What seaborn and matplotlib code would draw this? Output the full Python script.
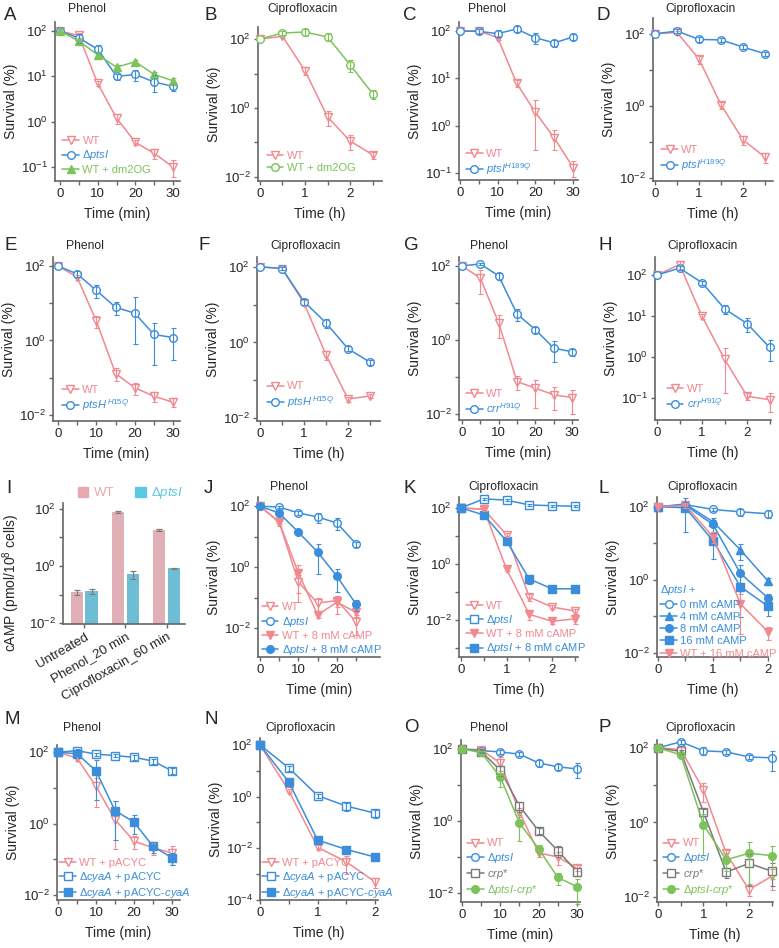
import numpy as np
import pandas as pd
import matplotlib
matplotlib.use("Agg")
import matplotlib.pyplot as plt
import seaborn as sns
from matplotlib.lines import Line2D
from matplotlib.patches import Patch
from matplotlib.ticker import NullLocator

# ---------------------------------------------------------------- data
T_MIN = [0, 5, 10, 15, 20, 25, 30]
T_MIN25 = [0, 5, 10, 15, 20, 25]
T_H = [0, 0.5, 1, 1.5, 2, 2.5]
T_H2 = [0, 0.5, 1, 1.5, 2]

# A  Phenol
A_WT = [100, 80, 7, 1.2, 0.35, 0.2, 0.1]
A_WT_SD = [0, 10, 1, 0.3, 0.05, 0.05, 0.04]
A_PTS = [100, 70, 40, 10, 11, 7.5, 6]
A_PTS_SD = [0, 15, 8, 1.5, 3, 3, 1.3]
A_DM = [100, 60, 30, 16, 21, 11, 8]
A_DM_SD = [0, 8, 5, 2, 2, 1.5, 1]
# B  Ciprofloxacin
B_WT = [100, 120, 12, 0.55, 0.11, 0.044]
B_WT_SD = [0, 15, 3, 0.25, 0.05, 0.01]
B_DM = [100, 150, 160, 115, 18, 2.6]
B_DM_SD = [0, 20, 40, 30, 7, 0.8]
# C  Phenol
C_WT = [100, 100, 72, 7.9, 1.9, 0.55, 0.13]
C_WT_SD = [0, 10, 8, 1.5, 1.6, 0.25, 0.05]
C_MUT = [100, 98, 88, 110, 72, 56, 75]
C_MUT_SD = [0, 12, 15, 15, 18, 10, 12]
# D  Ciprofloxacin
D_WT = [100, 110, 20, 1.07, 0.115, 0.038]
D_WT_SD = [0, 10, 5, 0.25, 0.03, 0.012]
D_MUT = [100, 120, 70, 68, 43, 28]
D_MUT_SD = [0, 15, 10, 8, 5, 3]
# E  Phenol
E_WT = [100, 50, 3.3, 0.13, 0.054, 0.032, 0.022]
E_WT_SD = [0, 8, 1.2, 0.05, 0.02, 0.01, 0.006]
E_MUT = [100, 61, 22, 7.8, 5.4, 1.45, 1.2]
E_MUT_SD = [0, 10, 8, 3, 9.6, 1.5, 0.9]
# F  Ciprofloxacin
F_WT = [100, 90, 11, 0.47, 0.032, 0.038]
F_WT_SD = [0, 10, 2, 0.12, 0.005, 0.005]
F_MUT = [100, 90, 12, 3.3, 0.68, 0.3]
F_MUT_SD = [0, 10, 2, 0.9, 0.1, 0.05]
# G  Phenol
G_WT = [100, 47, 2.9, 0.075, 0.05, 0.033, 0.028]
G_WT_SD = [0, 30, 1.8, 0.03, 0.035, 0.02, 0.018]
G_MUT = [100, 113, 54, 5, 1.9, 0.6, 0.48]
G_MUT_SD = [0, 10, 12, 1.8, 0.4, 0.35, 0.1]
# H  Ciprofloxacin
H_WT = [100, 180, 9.8, 0.88, 0.11, 0.09]
H_WT_SD = [0, 40, 1.5, 0.75, 0.02, 0.045]
H_MUT = [100, 147, 65, 15, 6.5, 1.7]
H_MUT_SD = [0, 15, 8, 4, 2.5, 0.9]
# I  cAMP
I_CATS = ["Untreated", "Phenol_20 min", "Ciprofloxacin_60 min"]
I_STRAINS = ["WT", "ΔptsI"]
I_WT = [0.12, 79, 17.7]
I_WT_SD = [0.02, 6, 1.2]
I_PTS = [0.13, 0.51, 0.82]
I_PTS_SD = [0.025, 0.15, 0.03]
# J  Phenol
J_WT = [100, 30, 0.32, 0.066, 0.08, 0.016]
J_WT_SD = [0, 8, 0.25, 0.03, 0.03, 0.01]
J_PTS = [100, 93, 60, 44, 28, 5.7]
J_PTS_SD = [0, 8, 10, 15, 12, 1.2]
J_WTC = [100, 30, 0.64, 0.027, 0.07, 0.033]
J_WTC_SD = [0, 5, 0.5, 0.005, 0.04, 0.01]
J_PTSC = [100, 59, 14, 3.1, 0.5, 0.06]
J_PTSC_SD = [0, 8, 2, 2.5, 0.35, 0.025]
# K  Ciprofloxacin
K_WT = [100, 90, 11, 0.066, 0.029, 0.021]
K_WT_SD = [0, 10, 2, 0.02, 0.005, 0.004]
K_PTS = [100, 210, 190, 128, 120, 115]
K_PTS_SD = [0, 20, 15, 10, 8, 8]
K_WTC = [100, 90, 0.66, 0.016, 0.009, 0.011]
K_WTC_SD = [0, 10, 0.1, 0.006, 0.002, 0.004]
K_PTSC = [100, 56, 6.6, 0.29, 0.13, 0.13]
K_PTSC_SD = [0, 8, 1.5, 0.1, 0.02, 0.02]
# L  Ciprofloxacin, cAMP doses
L_0 = [100, 115, 85, 73, 65]
L_0_SD = [0, 25, 10, 15, 15]
L_4 = [100, 120, 39, 6.6, 0.93]
L_4_SD = [0, 20, 10, 3, 0.2]
L_8 = [100, 110, 33, 1.5, 0.32]
L_8_SD = [0, 15, 12, 1, 0.1]
L_16 = [100, 95, 11.7, 0.65, 0.19]
L_16_SD = [0, 75, 8, 0.9, 0.09]
L_WT16 = [100, 110, 15, 0.22, 0.038]
L_WT16_SD = [0, 15, 5, 0.2, 0.015]
# M  Phenol
M_WT = [100, 68, 11, 1.3, 0.32, 0.21, 0.15]
M_WT_SD = [0, 10, 8, 3, 0.12, 0.08, 0.08]
M_CYA = [100, 110, 88, 80, 72, 56, 30]
M_CYA_SD = [0, 10, 8, 8, 10, 8, 6]
M_CYC = [100, 90, 30, 2.3, 1.1, 0.23, 0.11]
M_CYC_SD = [0, 10, 30, 2, 0.6, 0.08, 0.04]
# N  Ciprofloxacin
N_WT = [100, 1.7, 0.011, 0.003, 0.0005]
N_WT_SD = [0, 0.3, 0.002, 0.002, 0.0002]
N_CYA = [100, 13, 1.1, 0.43, 0.23]
N_CYA_SD = [0, 3, 0.2, 0.15, 0.08]
N_CYC = [100, 3.7, 0.021, 0.009, 0.0046]
N_CYC_SD = [0, 1, 0.004, 0.002, 0.0006]
# O  Phenol
O_WT = [100, 95, 41, 1.8, 0.13, 0.1, 0.05]
O_WT_SD = [0, 10, 20, 0.5, 0.03, 0.04, 0.01]
O_PTS = [100, 90, 83, 72, 41, 32, 28]
O_PTS_SD = [0, 8, 10, 10, 10, 6, 12]
O_CRP = [100, 85, 26, 2.6, 0.53, 0.15, 0.039]
O_CRP_SD = [0, 8, 8, 0.8, 0.1, 0.05, 0.01]
O_DC = [100, 80, 16.7, 0.88, 0.17, 0.027, 0.015]
O_DC_SD = [0, 10, 8, 0.6, 0.05, 0.01, 0.01]
# P  Ciprofloxacin
P_WT = [100, 90, 7.5, 0.15, 0.016, 0.036]
P_WT_SD = [0, 15, 4, 0.03, 0.005, 0.02]
P_PTS = [100, 145, 83, 78, 57, 54]
P_PTS_SD = [0, 15, 20, 8, 8, 30]
P_CRP = [100, 80, 1.9, 0.047, 0.08, 0.05]
P_CRP_SD = [0, 10, 0.4, 0.015, 0.06, 0.03]
P_DC = [100, 65, 0.88, 0.1, 0.15, 0.13]
P_DC_SD = [0, 10, 0.8, 0.05, 0.15, 0.1]

# ---------------------------------------------------------------- style
sns.set_theme(style="ticks")
plt.rcParams["font.family"] = ["Liberation Sans", "DejaVu Sans"]
plt.rcParams["mathtext.fontset"] = "custom"
plt.rcParams["mathtext.rm"] = "Liberation Sans"
plt.rcParams["mathtext.it"] = "Liberation Sans:italic"
plt.rcParams["mathtext.bf"] = "Liberation Sans:bold"
plt.rcParams["mathtext.default"] = "regular"

PINK = "#f3888f"
BLUE = "#3a8edb"
GREEN = "#7cc35a"
GREY = "#7a7a7a"
BAR_PINK = "#e9a8b0"
BAR_CYAN = "#5cc8e5"
AXC = "#666666"
MS = 5.5

W, H = 779, 948
fig = plt.figure(figsize=(W / 100, H / 100), dpi=100)


def add_ax(l, t, r, b):
    return fig.add_axes([l / W, 1 - b / H, (r - l) / W, (b - t) / H])


def ftext(x, y, s, size, **kw):
    fig.text(x / W, 1 - y / H, s, fontsize=size, va="center", ha="left", **kw)


def style_axis(ax, ylog, xlim, xmaj, xmin_, labeled, xlabel, ylabel="Survival (%)"):
    ax.set_yscale("log")
    ax.set_ylim(10 ** ylog[0], 10 ** ylog[1])
    ks = list(range(int(np.ceil(ylog[0] - 1e-9)), int(np.floor(ylog[1] + 1e-9)) + 1))
    ax.set_yticks([10.0 ** k for k in ks])
    ax.set_yticklabels([rf"$10^{{{k}}}$" if k in labeled else "" for k in ks])
    ax.yaxis.set_minor_locator(NullLocator())
    if xlim is not None:
        ax.set_xlim(*xlim)
    if xmaj is not None:
        ax.set_xticks(xmaj)
        ax.set_xticklabels([f"{v:g}" for v in xmaj])
        ax.set_xticks(xmin_, minor=True)
    ax.set_xlabel(xlabel, fontsize=10, labelpad=5)
    ax.set_ylabel(ylabel, fontsize=10, labelpad=2)
    for s in ["top", "right"]:
        ax.spines[s].set_visible(False)
    for s in ["left", "bottom"]:
        ax.spines[s].set_color(AXC)
        ax.spines[s].set_linewidth(1.2)
    ax.tick_params(which="both", direction="out", length=3, width=1, color=AXC,
                   labelsize=9.5, pad=2)


def plot_series(ax, t, vals, sd, color, marker, filled):
    df = pd.DataFrame({"t": t, "v": vals})
    sns.lineplot(data=df, x="t", y="v", ax=ax, color=color, marker=marker,
                 markersize=MS, markeredgecolor=color,
                 markerfacecolor=color if filled else "white",
                 markeredgewidth=1.0, linewidth=1.1, clip_on=False, zorder=3,
                 legend=False, errorbar=None)
    v = np.asarray(vals, float)
    s = np.asarray(sd, float)
    m = s > 0
    tt = np.asarray(t, float)[m]
    lower = np.minimum(s[m], 0.85 * v[m])
    ax.errorbar(tt, v[m], yerr=[lower, s[m]], fmt="none", ecolor=color,
                elinewidth=0.8, capsize=1.8, capthick=0.8, zorder=4, clip_on=False)


def add_legend(ax, series, anchor, title=None, title_color=None):
    handles, labels, colors = [], [], []
    for (_, _, lab, c, mk, filled) in series:
        handles.append(Line2D([], [], color=c, marker=mk, markersize=MS,
                              markeredgecolor=c,
                              markerfacecolor=c if filled else "white",
                              markeredgewidth=1.0, lw=1.1))
        labels.append(lab)
        colors.append(c)
    leg = ax.legend(handles, labels, loc="lower left", bbox_to_anchor=anchor,
                    frameon=False, fontsize=8, handlelength=1.5, handletextpad=0.3,
                    labelspacing=0.2, borderpad=0, borderaxespad=0, title=title,
                    title_fontsize=8, alignment="left")
    for tx, c in zip(leg.get_texts(), colors):
        tx.set_color(c)
    if title is not None:
        leg.get_title().set_color(title_color)


def survival_panel(rect, t, series, ylog, xlim, hours, labeled, anchor,
                   letter, letter_xy, title, title_xy, leg_title=None, xmaj=None):
    ax = add_ax(*rect)
    ax.set_yscale("log")
    for (vals, sd, lab, c, mk, filled) in series:
        plot_series(ax, t, vals, sd, c, mk, filled)
    if hours:
        maj = xmaj if xmaj is not None else [0, 1, 2]
        style_axis(ax, ylog, xlim, maj, [0.5, 1.5, 2.5] if xlim[1] > 2.4 else [0.5, 1.5],
                   labeled, "Time (h)")
    else:
        maj = xmaj if xmaj is not None else [0, 10, 20, 30]
        style_axis(ax, ylog, xlim, maj, [5, 15, 25], labeled, "Time (min)")
    add_legend(ax, series, anchor, title=leg_title, title_color=BLUE)
    ftext(letter_xy[0], letter_xy[1], letter, 13.5)
    ftext(title_xy[0], title_xy[1], title, 8.7)
    return ax


DPTS = r"$\mathit{ΔptsI}$"
EVEN = (2, 0, -2, -4)
ALL = (2, 1, 0, -1)

# ---------------------------------------------------------------- row 1
survival_panel((55, 22, 180, 181), T_MIN,
               [(A_WT, A_WT_SD, "WT", PINK, "v", False),
                (A_PTS, A_PTS_SD, DPTS, BLUE, "o", False),
                (A_DM, A_DM_SD, "WT + dm2OG", GREEN, "^", True)],
               (-1.31, 2.20), (-1.33, 31.86), False, ALL, (0.06, 0.04),
               "A", (4, 15), "Phenol", (68, 9))
survival_panel((258, 27, 382, 181), T_H,
               [(B_WT, B_WT_SD, "WT", PINK, "v", False),
                (B_DM, B_DM_SD, "WT + dm2OG", GREEN, "o", False)],
               (-2.12, 2.35), (-0.044, 2.71), True, EVEN, (0.07, 0.05),
               "B", (204, 15), "Ciprofloxacin", (267, 9))
survival_panel((459, 22, 578, 180), T_MIN,
               [(C_WT, C_WT_SD, "WT", PINK, "v", False),
                (C_MUT, C_MUT_SD, r"$\mathit{ptsI}^{\mathit{H189Q}}$", BLUE, "o", False)],
               (-1.15, 2.19), (-0.27, 31.3), False, ALL, (0.06, 0.02),
               "C", (403, 15), "Phenol", (468, 9))
survival_panel((653, 18, 773, 181), T_H,
               [(D_WT, D_WT_SD, "WT", PINK, "v", False),
                (D_MUT, D_MUT_SD, r"$\mathit{ptsI}^{\mathit{H189Q}}$", BLUE, "o", False)],
               (-2.08, 2.44), (-0.045, 2.68), True, EVEN, (0.07, 0.05),
               "D", (596, 15), "Ciprofloxacin", (665, 9))

# ---------------------------------------------------------------- row 2
survival_panel((53, 257, 180, 421), T_MIN,
               [(E_WT, E_WT_SD, "WT", PINK, "v", False),
                (E_MUT, E_MUT_SD, r"$\mathit{ptsH}^{\,\mathit{H15Q}}$", BLUE, "o", False)],
               (-2.16, 2.24), (-1.3, 31.8), False, EVEN, (0.07, 0.05),
               "E", (4, 246), "Phenol", (66, 246))
survival_panel((257, 257, 380, 421), T_H,
               [(F_WT, F_WT_SD, "WT", PINK, "v", False),
                (F_MUT, F_MUT_SD, r"$\mathit{ptsH}^{\,\mathit{H15Q}}$", BLUE, "o", False)],
               (-2.08, 2.26), (-0.07, 2.73), True, EVEN, (0.08, 0.07),
               "F", (198, 246), "Ciprofloxacin", (270, 246))
survival_panel((459, 257, 578, 420), T_MIN,
               [(G_WT, G_WT_SD, "WT", PINK, "v", False),
                (G_MUT, G_MUT_SD, r"$\mathit{crr}^{\mathit{H91Q}}$", BLUE, "o", False)],
               (-2.16, 2.24), (-0.8, 31.6), False, EVEN, (0.06, 0.03),
               "G", (404, 246), "Phenol", (470, 246))
survival_panel((655, 257, 771, 420), T_H,
               [(H_WT, H_WT_SD, "WT", PINK, "v", False),
                (H_MUT, H_MUT_SD, r"$\mathit{crr}^{\mathit{H91Q}}$", BLUE, "o", False)],
               (-1.54, 2.44), (-0.044, 2.53), True, ALL, (0.1, 0.06),
               "H", (598, 246), "Ciprofloxacin", (667, 246))

# ---------------------------------------------------------------- row 3
axI = add_ax(63, 503, 185, 624)
axI.set_yscale("log")
df_I = pd.DataFrame({
    "cond": I_CATS * 2,
    "val": I_WT + I_PTS,
    "strain": [I_STRAINS[0]] * 3 + [I_STRAINS[1]] * 3,
})
sns.barplot(data=df_I, x="cond", y="val", hue="strain",
            palette=[BAR_PINK, BAR_CYAN], width=0.7, gap=0.15, errorbar=None,
            linewidth=0, ax=axI, legend=False)
for cont, vals, sds in zip(axI.containers, [I_WT, I_PTS], [I_WT_SD, I_PTS_SD]):
    xs = [b.get_x() + b.get_width() / 2 for b in cont]
    axI.errorbar(xs, vals, yerr=sds, fmt="none", ecolor="#7f7f7f",
                 elinewidth=0.9, capsize=2.5, capthick=0.9, zorder=4)
style_axis(axI, (-2.03, 2.2), (-0.52, 2.45), None, None, EVEN, "",
           ylabel="cAMP (pmol/10$^{8}$ cells)")
axI.yaxis.set_label_coords(-0.34, 0.34)
axI.set_xticks([0, 1, 2])
axI.set_xticklabels(I_CATS, rotation=30, ha="right", rotation_mode="anchor",
                    fontsize=9.5)
legI = axI.legend([Patch(color=BAR_PINK), Patch(color=BAR_CYAN)],
                  ["WT", DPTS], loc="center left", bbox_to_anchor=(0.12, 1.08),
                  ncol=2, frameon=False, fontsize=9.5, handlelength=0.8,
                  handleheight=0.8, handletextpad=0.4, columnspacing=1.6,
                  borderpad=0, borderaxespad=0)
for tx, c in zip(legI.get_texts(), [BAR_PINK, BAR_CYAN]):
    tx.set_color(c)
ftext(6, 488, "I", 13.5)

survival_panel((258, 497, 380, 657), T_MIN25,
               [(J_WT, J_WT_SD, "WT", PINK, "v", False),
                (J_PTS, J_PTS_SD, DPTS, BLUE, "o", False),
                (J_WTC, J_WTC_SD, "WT + 8 mM cAMP", PINK, "v", True),
                (J_PTSC, J_PTSC_SD, DPTS + " + 8 mM cAMP", BLUE, "o", True)],
               (-2.95, 2.30), (-0.5, 31.2), False, EVEN, (0.03, 0.0),
               "J", (204, 488), "Phenol", (270, 487), xmaj=[0, 10, 20])
survival_panel((459, 497, 578, 657), T_H,
               [(K_WT, K_WT_SD, "WT", PINK, "v", False),
                (K_PTS, K_PTS_SD, DPTS, BLUE, "s", False),
                (K_WTC, K_WTC_SD, "WT + 8 mM cAMP", PINK, "v", True),
                (K_PTSC, K_PTSC_SD, DPTS + " + 8 mM cAMP", BLUE, "s", True)],
               (-3.32, 2.39), (-0.044, 2.57), True, EVEN, (0.06, 0.01),
               "K", (404, 488), "Ciprofloxacin", (468, 487))
survival_panel((657, 497, 768, 657), T_H2,
               [(L_0, L_0_SD, "0 mM cAMP", BLUE, "o", False),
                (L_4, L_4_SD, "4 mM cAMP", BLUE, "^", True),
                (L_8, L_8_SD, "8 mM cAMP", BLUE, "o", True),
                (L_16, L_16_SD, "16 mM cAMP", BLUE, "s", True),
                (L_WT16, L_WT16_SD, "WT + 16 mM cAMP", PINK, "v", True)],
               (-2.11, 2.27), (-0.018, 2.0), True, EVEN, (0.03, -0.01),
               "L", (598, 488), "Ciprofloxacin", (667, 487), leg_title=DPTS + " +")

# ---------------------------------------------------------------- row 4
DCYA = r"$\mathit{ΔcyaA}$"
survival_panel((57, 745, 180, 900), T_MIN,
               [(M_WT, M_WT_SD, "WT + pACYC", PINK, "v", False),
                (M_CYA, M_CYA_SD, DCYA + " + pACYC", BLUE, "s", False),
                (M_CYC, M_CYC_SD, DCYA + r" + pACYC-$\mathit{cyaA}$", BLUE, "s", True)],
               (-2.14, 2.20), (-0.26, 32.1), False, EVEN, (0.02, 0.0),
               "M", (4, 720), "Phenol", (63, 728))
survival_panel((260, 738, 378, 900), T_H2,
               [(N_WT, N_WT_SD, "WT + pACYC", PINK, "v", False),
                (N_CYA, N_CYA_SD, DCYA + " + pACYC", BLUE, "s", False),
                (N_CYC, N_CYC_SD, DCYA + r" + pACYC-$\mathit{cyaA}$", BLUE, "s", True)],
               (-4.0, 2.27), (0.0, 2.05), True, EVEN, (0.02, 0.0),
               "N", (205, 720), "Ciprofloxacin", (265, 728))
survival_panel((461, 740, 580, 902), T_MIN,
               [(O_WT, O_WT_SD, "WT", PINK, "v", False),
                (O_PTS, O_PTS_SD, DPTS, BLUE, "o", False),
                (O_CRP, O_CRP_SD, r"$\mathit{crp}$*", GREY, "s", False),
                (O_DC, O_DC_SD, DPTS + r"-$\mathit{crp}$*", GREEN, "o", True)],
               (-2.25, 2.25), (-0.26, 30.8), False, EVEN, (0.05, 0.03),
               "O", (404, 728), "Phenol", (470, 728))
survival_panel((657, 740, 773, 902), T_H,
               [(P_WT, P_WT_SD, "WT", PINK, "v", False),
                (P_PTS, P_PTS_SD, DPTS, BLUE, "o", False),
                (P_CRP, P_CRP_SD, r"$\mathit{crp}$*", GREY, "s", False),
                (P_DC, P_DC_SD, DPTS + r"-$\mathit{crp}$*", GREEN, "o", True)],
               (-2.13, 2.21), (-0.022, 2.53), True, EVEN, (0.05, 0.03),
               "P", (598, 728), "Ciprofloxacin", (665, 728))

fig.savefig("out.png", dpi=100)
